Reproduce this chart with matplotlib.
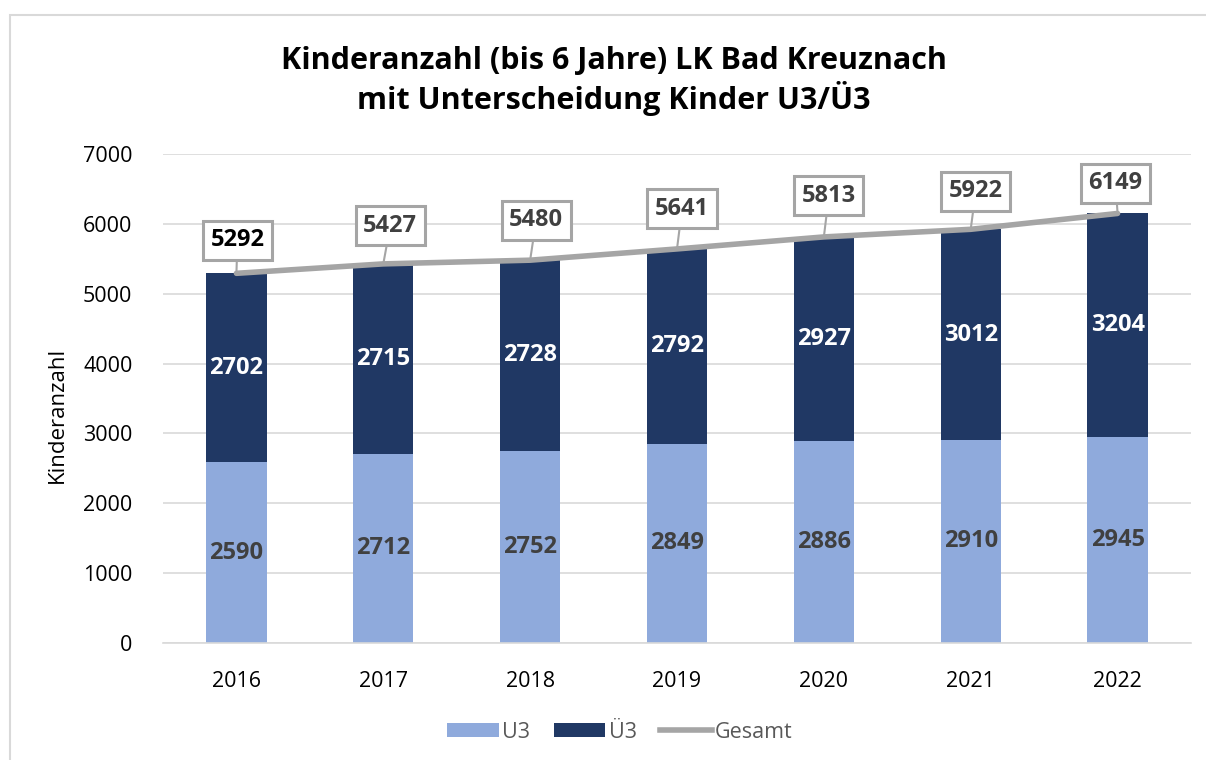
import matplotlib
matplotlib.use("Agg")
import matplotlib.pyplot as plt
from matplotlib.patches import Rectangle
from matplotlib.lines import Line2D
from matplotlib.patches import Patch

plt.rcParams['font.family'] = ['Open Sans', 'DejaVu Sans']

years = ['2016', '2017', '2018', '2019', '2020', '2021', '2022']
u3 = [2590, 2712, 2752, 2849, 2886, 2910, 2945]
ue3 = [2702, 2715, 2728, 2792, 2927, 3012, 3204]
gesamt = [5292, 5427, 5480, 5641, 5813, 5922, 6149]

title = "Kinderanzahl (bis 6 Jahre) LK Bad Kreuznach\nmit Unterscheidung Kinder U3/Ü3"
ylabel = "Kinderanzahl"
yticks = [0, 1000, 2000, 3000, 4000, 5000, 6000, 7000]

# label placement offsets (pixels) for Gesamt boxes
lbl_dx = [1, 7, 6, 5, 5, 5, -2]
lbl_dy = [33, 38, 40, 40, 41, 38, 30]

c_u3 = '#8FAADC'
c_ue3 = '#203864'
c_line = '#A5A5A5'

fig = plt.figure(figsize=(12.06, 7.6), dpi=100)
ax = fig.add_axes([163/1206, 1-643/760, (1191-163)/1206, (643-154)/760])

# outer chart border
fig.patches.append(Rectangle((10/1206, -0.05), 1.2, 1-15/760+0.05, transform=fig.transFigure,
                             fill=False, edgecolor='#D9D9D9', linewidth=1.5, zorder=0))

x = list(range(len(years)))
w = 0.41
ax.bar(x, u3, width=w, color=c_u3, zorder=2, label='U3')
ax.bar(x, ue3, width=w, bottom=u3, color=c_ue3, zorder=2, label='Ü3')
ax.plot(x, gesamt, color=c_line, linewidth=4, solid_capstyle='round', zorder=3, label='Gesamt')

for i in x:
    ax.text(i, u3[i] / 2, str(u3[i]), ha='center', va='center', fontsize=17,
            fontweight='bold', color='#404040', zorder=4)
    ax.text(i, u3[i] + ue3[i] / 2, str(ue3[i]), ha='center', va='center', fontsize=17,
            fontweight='bold', color='white', zorder=4)
    ax.annotate(str(gesamt[i]), xy=(i, gesamt[i]), xytext=(lbl_dx[i], lbl_dy[i]),
                textcoords='offset pixels', ha='center', va='center', fontsize=17,
                fontweight='bold', color='black' if i == 0 else '#404040',
                bbox=dict(boxstyle='square,pad=0.32', facecolor='white', edgecolor=c_line, linewidth=2.2),
                arrowprops=dict(arrowstyle='-', color=c_line, lw=1.5, shrinkA=0, shrinkB=0),
                zorder=5)

ax.set_xlim(-0.5, len(years) - 0.5)
ax.set_ylim(0, 7000)
ax.set_yticks(yticks)
ax.set_xticks(x)
ax.set_xticklabels(years)
ax.tick_params(axis='both', length=0, labelsize=15.5, colors='#000000')
ax.tick_params(axis='y', pad=22)
ax.tick_params(axis='x', pad=20)
ax.grid(axis='y', color='#D9D9D9', linewidth=1.2, zorder=0)
ax.set_axisbelow(True)
for s in ['top', 'right', 'left']:
    ax.spines[s].set_visible(False)
ax.spines['bottom'].set_color('#D9D9D9')
ax.spines['bottom'].set_linewidth(1.2)

fig.text(57/1206, 1-415/760, ylabel, rotation=90, ha='center', va='center', fontsize=16, color='#000000')
fig.text(614/1206, 1-81/760, title, ha='center', va='center', fontsize=22, fontweight='bold',
         linespacing=1.2, color='#000000')

handles = [Patch(facecolor=c_u3, label='U3'), Patch(facecolor=c_ue3, label='Ü3'),
           Line2D([0], [0], color=c_line, lw=4, label='Gesamt')]
leg = fig.legend(handles=handles, loc='center', bbox_to_anchor=(620/1206, 1-732/760), ncol=3,
                 frameon=False, fontsize=15.5, handlelength=2.4, handleheight=0.6, columnspacing=1.1,
                 handletextpad=0.15)
for t in leg.get_texts():
    t.set_color('#595959')

fig.savefig('out.png', dpi=100)
